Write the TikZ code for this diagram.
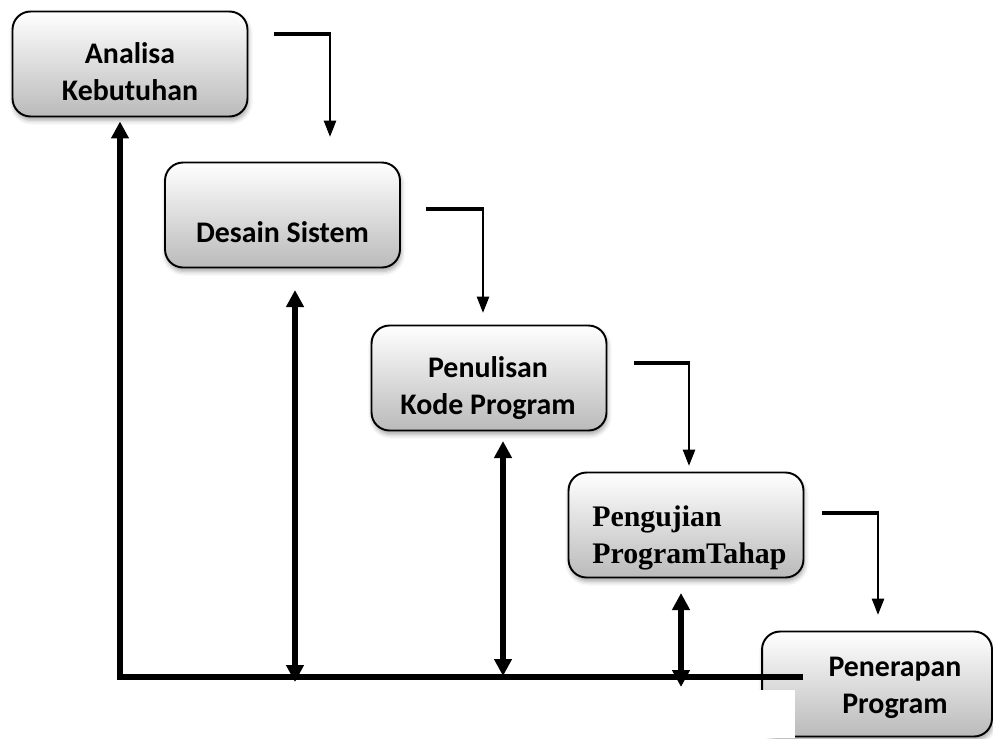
\documentclass[tikz,border=0pt]{standalone}
\usepackage{fontspec}
\setmainfont{Carlito}
\newfontfamily\serifbold{Liberation Serif}
\usetikzlibrary{arrows.meta, calc, shadows.blur}

\begin{document}
\begin{tikzpicture}[
  x=0.02cm, y=-0.02cm,
  every node/.style={font=\fontsize{17}{21}\selectfont\bfseries},
  stagebox/.style={draw=black, line width=1.1pt, rounded corners=0.36cm,
                   top color=white, bottom color=black!27,
                   minimum width=4.7cm, minimum height=2.1cm,
                   inner sep=0pt,
                   blur shadow={shadow xshift=0.6pt, shadow yshift=-2.2pt,
                                shadow blur radius=2.5pt, shadow opacity=35}},
  stagetext/.style={align=center, inner sep=0pt},
  bar/.style={line width=2.8pt},
  down/.style={-{Triangle[length=0.33cm, width=0.24cm]}, line width=1.6pt},
  back/.style={-{Triangle[length=0.34cm, width=0.34cm]}, line width=3.3pt},
  both/.style={{Triangle[length=0.34cm, width=0.34cm]}-{Triangle[length=0.34cm, width=0.34cm]},
               line width=3.3pt}
]
\useasboundingbox (0,0) rectangle (993,738);

% the five stages
\node[stagebox] (analisa)   at (130,64)    {};
\node[stagebox] (desain)    at (282.5,215) {};
\node[stagebox] (penulisan) at (489,378)   {};
\node[stagebox] (pengujian) at (686,525)   {};
\node[stagebox, minimum width=4.6cm] (penerapan) at (877,684) {};

\node[stagetext] (analisaTxt)   at (130,72)    {Analisa\\Kebutuhan};
\node[stagetext] (desainTxt)    at (282.5,232) {Desain Sistem};
\node[stagetext] (penulisanTxt) at (488,388)   {Penulisan\\Kode Program};
\node[stagetext, align=left, text width=3.75cm,
      font=\fontsize{17}{21.5}\selectfont\serifbold\bfseries] (pengujianTxt) at (686,538) {Pengujian\\ProgramTahap};
\node[stagetext] (penerapanTxt) at (895,688)   {Penerapan\\Program};

% waterfall steps
\coordinate (bar1a) at (274,34);  \coordinate (bar1b) at (331,34);
\coordinate (bar2a) at (426,209); \coordinate (bar2b) at (484,209);
\coordinate (bar3a) at (634,363); \coordinate (bar3b) at (690,363);
\coordinate (bar4a) at (822,513); \coordinate (bar4b) at (879,513);

\draw[bar] (bar1a) -- (bar1b);
\draw[bar] (bar2a) -- (bar2b);
\draw[bar] (bar3a) -- (bar3b);
\draw[bar] (bar4a) -- (bar4b);

\draw[down] (330,35)  -- (330,137);
\draw[down] (483,210) -- (483,313);
\draw[down] (689,364) -- (689,466);
\draw[down] (878,514) -- (878,615);

% feedback lines
\coordinate (corner)  at (120,677);
\coordinate (lineEnd) at (803,677);
\draw[back] (lineEnd) -- (corner) -- ($(corner |- analisa.south)+(0,4)$);

\coordinate (up2) at (295,290); \coordinate (dn2) at (295,682);
\coordinate (up3) at (503,441); \coordinate (dn3) at (503,676);
\coordinate (up4) at (681,593); \coordinate (dn4) at (681,687);
\draw[both] (up2) -- (dn2);
\draw[both] (up3) -- (dn3);
\draw[both] (up4) -- (dn4);

\fill[white] (740,690) rectangle (795,738);

\end{tikzpicture}
\end{document}
